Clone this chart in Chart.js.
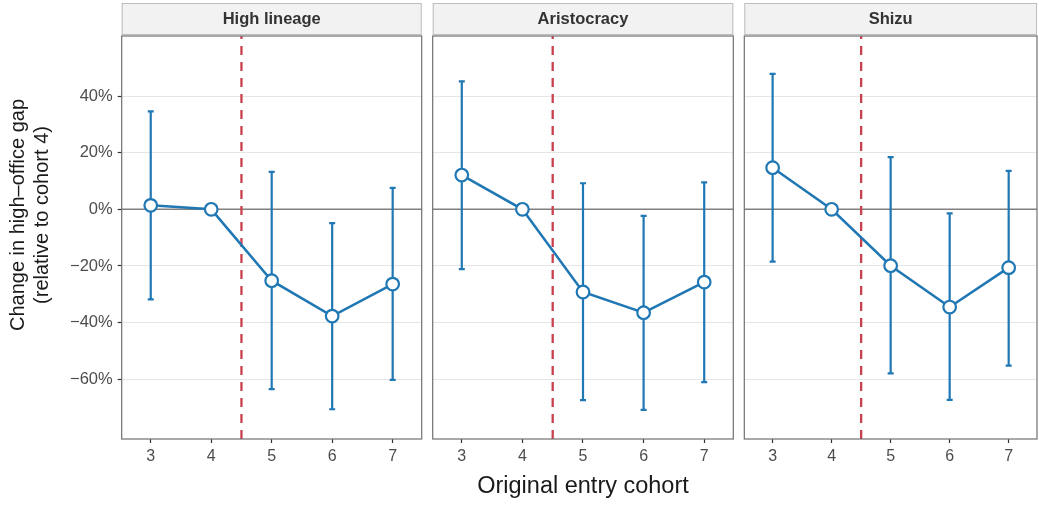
<!DOCTYPE html>
<html>
<head>
<meta charset="utf-8">
<script src="https://cdn.jsdelivr.net/npm/chart.js@4/dist/chart.umd.min.js"></script>
<style>
  html, body { margin: 0; padding: 0; background: #fff; }
  #wrap { position: relative; width: 1039px; height: 506px; }
  canvas { position: absolute; top: 0; }
</style>
</head>
<body>
<div id="wrap">
  <canvas id="p0" width="427" height="506" style="left:0px"></canvas>
  <canvas id="p1" width="312" height="506" style="left:427px"></canvas>
  <canvas id="p2" width="300" height="506" style="left:739px"></canvas>
</div>
<script>
// values in percent
const cohorts = [3, 4, 5, 6, 7];
const panelNames = ['High lineage', 'Aristocracy', 'Shizu'];

const highEst = [1.4, 0, -25.2, -37.7, -26.4];
const highLo  = [-31.8, null, -63.5, -70.6, -60.2];
const highHi  = [34.6, null, 13.2, -4.9, 7.6];

const aristoEst = [12.1, 0, -29.2, -36.5, -25.7];
const aristoLo  = [-21.1, null, -67.4, -70.8, -61.0];
const aristoHi  = [45.2, null, 9.2, -2.3, 9.5];

const shizuEst = [14.7, 0, -19.9, -34.5, -20.6];
const shizuLo  = [-18.5, null, -57.9, -67.3, -55.2];
const shizuHi  = [47.8, null, 18.4, -1.4, 13.6];

const yTicks = [-60, -40, -20, 0, 20, 40];
const cutoff = 4.5;

const BLUE = '#1F77B4';
const RED = '#C9404F';
const FONT = "'Liberation Sans', Arial, Helvetica, sans-serif";

function facetPlugin(name, lo, hi) {
  return {
    id: 'facet_' + name.replace(/\s/g, ''),
    beforeDraw(chart) {
      const { ctx, chartArea: a } = chart;
      ctx.save();
      ctx.fillStyle = '#F2F2F2';
      ctx.fillRect(a.left, 3, a.width, 32);
      ctx.strokeStyle = '#BDBDBD';
      ctx.lineWidth = 1;
      ctx.strokeRect(a.left + 0.5, 3.5, a.width - 1, 31);
      ctx.font = 'bold 16.5px ' + FONT;
      ctx.fillStyle = '#333333';
      ctx.textAlign = 'center';
      ctx.textBaseline = 'middle';
      ctx.fillText(name, (a.left + a.right) / 2, 19.5);
      ctx.restore();
    },
    beforeDatasetsDraw(chart) {
      const { ctx, chartArea: a, scales: { x, y } } = chart;
      ctx.save();
      // zero line
      const y0 = y.getPixelForValue(0);
      ctx.strokeStyle = '#808080';
      ctx.lineWidth = 1.4;
      ctx.beginPath();
      ctx.moveTo(a.left, y0);
      ctx.lineTo(a.right, y0);
      ctx.stroke();
      // cutoff
      const xc = x.getPixelForValue(cutoff);
      ctx.strokeStyle = RED;
      ctx.lineWidth = 2.3;
      ctx.setLineDash([9, 7]);
      ctx.beginPath();
      ctx.moveTo(xc, a.bottom);
      ctx.lineTo(xc, a.top);
      ctx.stroke();
      ctx.setLineDash([]);
      // error bars
      ctx.strokeStyle = BLUE;
      ctx.lineWidth = 2.2;
      lo.forEach((l, i) => {
        if (l == null) return;
        const px = x.getPixelForValue(cohorts[i]);
        const pl = y.getPixelForValue(l);
        const ph = y.getPixelForValue(hi[i]);
        ctx.beginPath();
        ctx.moveTo(px, pl); ctx.lineTo(px, ph);
        ctx.moveTo(px - 3, pl); ctx.lineTo(px + 3, pl);
        ctx.moveTo(px - 3, ph); ctx.lineTo(px + 3, ph);
        ctx.stroke();
      });
      ctx.restore();
    },
    afterDraw(chart) {
      const { ctx, chartArea: a } = chart;
      ctx.save();
      ctx.strokeStyle = '#707070';
      ctx.lineWidth = 1.2;
      ctx.strokeRect(a.left, a.top, a.width, a.height);
      ctx.restore();
    }
  };
}

const yTitlePlugin = {
  id: 'ytitle',
  afterDraw(chart) {
    const { ctx } = chart;
    ctx.save();
    ctx.font = '20px ' + FONT;
    ctx.fillStyle = '#1a1a1a';
    ctx.textAlign = 'center';
    ctx.textBaseline = 'middle';
    ctx.translate(0, 215);
    ctx.rotate(-Math.PI / 2);
    ctx.fillText('Change in high\u2013office gap', 0, 18);
    ctx.fillText('(relative to cohort 4)', 0, 42);
    ctx.restore();
  }
};

const pads = [{ left: 0, right: 5.3 }, { left: 5.7, right: 5.7 }, { left: 5.3, right: 2 }];

function makeChart(idx, est, lo, hi) {
  const first = idx === 0;
  const plugins = [facetPlugin(panelNames[idx], lo, hi)];
  if (first) plugins.push(yTitlePlugin);

  new Chart(document.getElementById('p' + idx), {
    type: 'line',
    data: {
      datasets: [{
        data: cohorts.map((c, i) => ({ x: c, y: est[i] })),
        borderColor: BLUE,
        borderWidth: 2.5,
        pointRadius: 6.3,
        pointBackgroundColor: '#ffffff',
        pointBorderColor: BLUE,
        pointBorderWidth: 2.2,
        tension: 0
      }]
    },
    options: {
      responsive: false,
      animation: false,
      events: [],
      layout: {
        autoPadding: false,
        padding: { top: 36, bottom: 0, left: pads[idx].left, right: pads[idx].right }
      },
      plugins: { legend: { display: false }, tooltip: { enabled: false } },
      scales: {
        x: {
          type: 'linear',
          min: 2.52,
          max: 7.48,
          afterBuildTicks: s => { s.ticks = cohorts.map(v => ({ value: v })); },
          afterFit: s => { s.height = 67; },
          grid: { drawOnChartArea: false, drawTicks: true, tickLength: 4, tickColor: '#333', tickWidth: 1.2 },
          border: { display: false },
          ticks: { font: { family: FONT, size: 16 }, color: '#4D4D4D', padding: 4, maxRotation: 0, autoSkip: false },
          title: {
            display: idx === 1,
            text: 'Original entry cohort',
            font: { family: FONT, size: 23.5 },
            color: '#1a1a1a',
            padding: { top: 0, bottom: 5 }
          }
        },
        y: {
          type: 'linear',
          min: -81.1,
          max: 61.2,
          afterBuildTicks: s => { s.ticks = yTicks.map(v => ({ value: v })); },
          afterFit: s => { s.width = first ? 121.7 : 0; },
          grid: { color: '#E6E6E6', lineWidth: 1, drawTicks: first, tickLength: 4, tickColor: '#333', tickWidth: 1.2 },
          border: { display: false },
          ticks: {
            display: first,
            font: { family: FONT, size: 16.5 },
            color: '#4D4D4D',
            padding: 5,
            callback: v => (v < 0 ? '\u2212' + (-v) : v) + '%'
          }
        }
      }
    },
    plugins: plugins
  });
}

makeChart(0, highEst, highLo, highHi);
makeChart(1, aristoEst, aristoLo, aristoHi);
makeChart(2, shizuEst, shizuLo, shizuHi);
</script>
</body>
</html>
